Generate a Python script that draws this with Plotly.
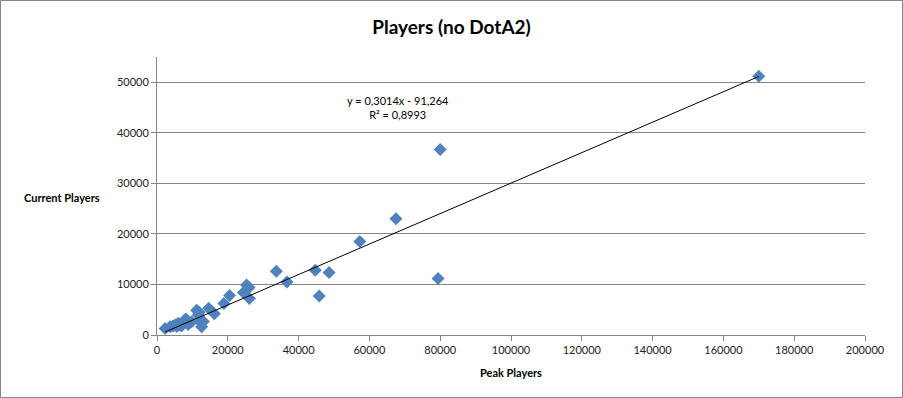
import plotly.graph_objects as go

peak_players = [2300, 3700, 4500, 5100, 5600, 6000, 6600, 7000, 7500, 7900, 8200, 8800, 9800,
                11200, 11700, 11900, 12200, 12600, 13100, 14600, 16200, 18900, 20500, 24400,
                25300, 26000, 26100, 33700, 36700, 44700, 45800, 48600, 57300, 67500, 79400,
                80000, 170000]
current_players = [1300, 1650, 1800, 2000, 1700, 2300, 1900, 1850, 2500, 3000, 3150, 2100, 2600,
                   4900, 3950, 4500, 2600, 1650, 2650, 5300, 4200, 6250, 7800, 8400,
                   9900, 9400, 7200, 12600, 10500, 12800, 7700, 12350, 18500, 23000, 11200,
                   36700, 51200]
slope = 0.3014
intercept = -91.264
r_squared = 0.8993
x_ticks = list(range(0, 200001, 20000))
y_ticks = list(range(0, 50001, 10000))

FONT = "Lato"
W, H = 903, 398
L, R, T, B = 157, 38, 57, 63
pw, ph = W - L - R, H - T - B

xmin, xmax = min(peak_players), max(peak_players)
fig = go.Figure()
fig.add_trace(go.Scatter(
    x=peak_players, y=current_players, mode="markers",
    marker=dict(symbol="diamond", size=10, color="#4F81BD", line=dict(width=0)),
    showlegend=False, hoverinfo="x+y"))
fig.add_trace(go.Scatter(
    x=[xmin, xmax], y=[slope * xmin + intercept, slope * xmax + intercept],
    mode="lines", line=dict(color="black", width=1), showlegend=False, hoverinfo="skip"))

fig.update_layout(
    width=W, height=H, margin=dict(l=L, r=R, t=T, b=B),
    paper_bgcolor="white", plot_bgcolor="white",
    font=dict(family=FONT, size=11, color="#222"),
    title=dict(text="<b>Players (no DotA2)</b>", x=0.5, xanchor="center", y=1 - 27 / H,
               yanchor="middle", font=dict(family=FONT, size=19, color="black")),
    xaxis=dict(range=[0, 200000], tickvals=x_ticks, ticktext=[str(v) for v in x_ticks],
               showgrid=False, zeroline=False, showline=True, linecolor="#868686", linewidth=1,
               ticks="outside", ticklen=5, tickcolor="#868686",
               tickfont=dict(family=FONT, size=11, color="#222")),
    yaxis=dict(range=[0, 55000], tickvals=y_ticks, ticktext=[str(v) for v in y_ticks],
               showgrid=True, gridcolor="#868686", gridwidth=1, zeroline=False,
               showline=True, linecolor="#868686", linewidth=1,
               ticks="outside", ticklen=5, tickcolor="#868686",
               tickfont=dict(family=FONT, size=11, color="#222")),
    annotations=[
        dict(text="<b>Current Players</b>", xref="paper", yref="paper",
             x=(62 - L) / pw, y=(H - B - 197) / ph, showarrow=False,
             font=dict(family=FONT, size=11, color="black"), xanchor="center", yanchor="middle"),
        dict(text="<b>Peak Players</b>", xref="paper", yref="paper",
             x=(511 - L) / pw, y=(H - B - 372) / ph, showarrow=False,
             font=dict(family=FONT, size=11, color="black"), xanchor="center", yanchor="middle"),
        dict(text=f"y = {str(slope).replace('.', ',')}x - {str(-intercept).replace('.', ',')}<br>"
                  f"R² = {str(r_squared).replace('.', ',')}",
             xref="paper", yref="paper", x=(398 - L) / pw, y=(H - B - 107) / ph,
             showarrow=False, align="center", font=dict(family=FONT, size=11, color="black"),
             xanchor="center", yanchor="middle"),
    ],
    shapes=[dict(type="rect", xref="paper", yref="paper",
                 x0=(0.5 - L) / pw, x1=(W - 0.5 - L) / pw,
                 y0=(H - B - (H - 0.5)) / ph, y1=(H - B - 0.5) / ph,
                 line=dict(color="#868686", width=1), layer="below")],
)
fig.write_html("out.html", config={"displayModeBar": False},
               post_script="document.body.style.margin='0';document.body.style.overflow='hidden';")
